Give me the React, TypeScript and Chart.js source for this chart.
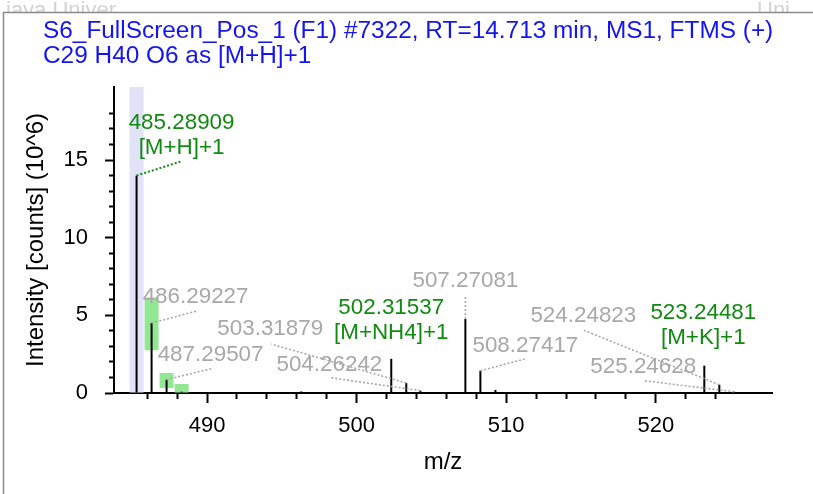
import React, { useEffect, useRef } from 'react';
import { Chart, registerables } from 'chart.js';

Chart.register(...registerables);

// ---- text ----
const TITLE_LINES = [
  'S6_FullScreen_Pos_1 (F1) #7322, RT=14.713 min, MS1, FTMS (+)',
  'C29 H40 O6 as [M+H]+1',
];
const X_TITLE = 'm/z';
const Y_TITLE = 'Intensity [counts] (10^6)';

// ---- centroided spectrum (intensity in 10^6 counts) ----
const peakMz = [
  485.28909, 486.29227, 487.29507, 488.298, 494.6, 496.3, 497.0,
  502.31537, 503.31879, 504.26242, 504.8, 507.27081, 508.27417, 509.28,
  523.24481, 524.24823, 525.24628,
];
const peakIntensity = [
  14.0, 4.5, 0.86, 0.08, 0.05, 0.1, 0.06,
  2.2, 0.64, 0.15, 0.06, 4.76, 1.43, 0.2,
  1.76, 0.53, 0.08,
];

// ---- theoretical isotope pattern windows ----
const isoMz = [486.29227, 487.29507, 488.298];
const isoLow = [2.75, 0.32, 0];
const isoHigh = [6.15, 1.29, 0.58];

// highlighted monoisotopic ion
const monoMz = 485.28909;

// ---- axis ranges ----
const X_MIN = 483.78;
const X_MAX = 527.77;
const Y_MAX = 19.7;

// ---- annotated peaks ----
const labelledMz = [
  485.28909, 486.29227, 487.29507, 502.31537, 503.31879, 504.26242,
  507.27081, 508.27417, 523.24481, 524.24823, 525.24628,
];
const labelAdducts = [
  '[M+H]+1', '', '', '[M+NH4]+1', '', '', '', '', '[M+K]+1', '', '',
];

// placement of each annotation relative to its peak top (px)
const labelLayout = [
  { dx: 45, dy: -28, leader: [44, -14] },
  { dx: 44, dy: -26, leader: [45, -12] },
  { dx: 44, dy: -25, leader: [45, -11] },
  { dx: 0, dy: -26, leader: null },
  { dx: -136, dy: -54, leader: [-135, -39] },
  { dx: -91, dy: -26, leader: [-90, -13] },
  { dx: 0, dy: -38, leader: [0, -24] },
  { dx: 45, dy: -25, leader: [45, -12] },
  { dx: -1, dy: -28, leader: null },
  { dx: -136, dy: -69, leader: [-137, -55] },
  { dx: -91, dy: -25, leader: [-90, -11] },
];

const FONT = '"Liberation Sans", Arial, Helvetica, sans-serif';
const GREEN = '#118a11';
const GRAY = '#a8a8a8';
const BLUE = '#1414f0';
const LINE_GAP = 25;

const backdropPlugin = {
  id: 'backdrop',
  beforeDraw(chart: any) {
    const { ctx, width, height } = chart;
    ctx.save();
    ctx.fillStyle = '#ffffff';
    ctx.fillRect(0, 0, width, height);

    // faint watermark strip above the frame
    ctx.beginPath();
    ctx.rect(0, 0, width, 12);
    ctx.clip();
    ctx.fillStyle = '#d2d2d2';
    ctx.font = `22px ${FONT}`;
    ctx.textBaseline = 'alphabetic';
    ctx.textAlign = 'left';
    ctx.fillText('jaya Univer', 6, 17);
    ctx.fillText('Uni', 757, 17);
    ctx.restore();

    // frame
    ctx.save();
    ctx.strokeStyle = '#8a8a8a';
    ctx.lineWidth = 1.5;
    ctx.beginPath();
    ctx.moveTo(3.5, height);
    ctx.lineTo(3.5, 12.5);
    ctx.lineTo(width, 12.5);
    ctx.stroke();

    // header
    ctx.fillStyle = BLUE;
    ctx.font = `24.4px ${FONT}`;
    ctx.textAlign = 'left';
    ctx.textBaseline = 'middle';
    TITLE_LINES.forEach((t, i) => ctx.fillText(t, 43, 31 + i * 25));
    ctx.restore();
  },
};

const peakLabelPlugin = {
  id: 'peakLabels',
  afterDatasetsDraw(chart: any) {
    const { ctx } = chart;
    const xs = chart.scales.x;
    const ys = chart.scales.y;
    labelledMz.forEach((mz, i) => {
      const k = peakMz.indexOf(mz);
      if (k < 0) return;
      const px = xs.getPixelForValue(mz);
      const py = ys.getPixelForValue(peakIntensity[k]);
      const lay = labelLayout[i];
      const matched = labelAdducts[i] !== '';
      const color = matched ? GREEN : GRAY;
      ctx.save();
      if (lay.leader) {
        ctx.setLineDash([2, 2]);
        ctx.lineWidth = matched ? 2 : 1.6;
        ctx.strokeStyle = color;
        ctx.beginPath();
        ctx.moveTo(px, py);
        ctx.lineTo(px + lay.leader[0], py + lay.leader[1]);
        ctx.stroke();
      }
      const lines = [mz.toFixed(5)];
      if (matched) lines.push(labelAdducts[i]);
      ctx.fillStyle = color;
      ctx.font = `22.4px ${FONT}`;
      ctx.textAlign = 'center';
      ctx.textBaseline = 'middle';
      lines.forEach((t, j) => {
        ctx.fillText(t, px + lay.dx, py + lay.dy - (lines.length - 1 - j) * LINE_GAP);
      });
      ctx.restore();
    });
  },
};

function buildConfig(): any {
  return {
    type: 'bar',
    data: {
      datasets: [
        {
          label: 'spectrum',
          data: peakMz.map((x, i) => ({ x, y: peakIntensity[i] })),
          backgroundColor: '#000000',
          barThickness: 2,
          grouped: false,
          inflateAmount: 0,
          order: 1,
        },
        {
          label: 'isotope pattern',
          data: isoMz.map((x, i) => ({ x, y: [isoLow[i], isoHigh[i]] })),
          backgroundColor: '#92e892',
          barThickness: 14,
          grouped: false,
          inflateAmount: 0,
          order: 2,
        },
        {
          label: 'selected ion',
          data: [{ x: monoMz, y: [0, Y_MAX] }],
          backgroundColor: '#e1e1f8',
          barThickness: 14,
          grouped: false,
          inflateAmount: 0,
          order: 3,
        },
      ],
    },
    options: {
      animation: false,
      responsive: false,
      devicePixelRatio: 1,
      events: [],
      layout: { padding: { left: 0, top: 87, right: 41, bottom: 0 } },
      plugins: {
        legend: { display: false },
        tooltip: { enabled: false },
        title: { display: false },
      },
      scales: {
        x: {
          type: 'linear',
          min: X_MIN,
          max: X_MAX,
          offset: false,
          grid: {
            offset: false,
            drawOnChartArea: false,
            drawTicks: true,
            tickLength: 10,
            tickColor: '#000000',
            tickWidth: 2,
            tickBorderDash: (c: any) =>
              c.tick && c.tick.value % 10 === 0 ? [] : [5, 40],
          },
          border: { display: true, color: '#000000', width: 2 },
          ticks: {
            stepSize: 2,
            autoSkip: false,
            maxRotation: 0,
            minRotation: 0,
            padding: 10,
            color: '#000000',
            font: { family: FONT, size: 22 },
            callback: (v: number) => (v % 10 === 0 ? String(v) : ''),
          },
          afterBuildTicks: (s: any) => {
            s.ticks = s.ticks.filter((t: any) => Number.isInteger(t.value) && t.value % 2 === 0);
          },
          afterFit: (s: any) => {
            s.height = 101;
            s.paddingLeft = 0;
            s.paddingRight = 0;
          },
          title: {
            display: true,
            text: X_TITLE,
            color: '#000000',
            font: { family: FONT, size: 24 },
            padding: { top: 0, bottom: 17.6 },
          },
        },
        y: {
          type: 'linear',
          min: 0,
          max: Y_MAX,
          grid: {
            drawOnChartArea: false,
            drawTicks: true,
            tickLength: 9,
            tickColor: '#000000',
            tickWidth: 2,
            tickBorderDash: (c: any) =>
              c.tick && c.tick.value % 5 === 0 ? [] : [0, 4, 5, 40],
          },
          border: { display: true, color: '#000000', width: 2 },
          ticks: {
            stepSize: 1,
            autoSkip: false,
            padding: 17,
            color: '#000000',
            font: { family: FONT, size: 22 },
            callback: (v: number) => (v % 5 === 0 ? String(v) : ''),
          },
          afterBuildTicks: (s: any) => {
            s.ticks = s.ticks.filter((t: any) => Number.isInteger(t.value));
          },
          afterFit: (s: any) => {
            s.width = 114;
            s.paddingTop = 0;
            s.paddingBottom = 0;
          },
          title: {
            display: true,
            text: Y_TITLE,
            color: '#000000',
            font: { family: FONT, size: 24 },
            padding: { top: 22, bottom: 0 },
          },
        },
      },
    },
    plugins: [backdropPlugin, peakLabelPlugin],
  };
}

export default function App() {
  const ref = useRef<HTMLCanvasElement>(null);
  useEffect(() => {
    if (!ref.current) return;
    const chart = new Chart(ref.current, buildConfig());
    return () => chart.destroy();
  }, []);
  return (
    <div
      style={{
        position: 'fixed',
        left: 0,
        top: 0,
        width: 813,
        height: 494,
        background: '#ffffff',
      }}
    >
      <canvas ref={ref} width={813} height={494} style={{ display: 'block' }} />
    </div>
  );
}
